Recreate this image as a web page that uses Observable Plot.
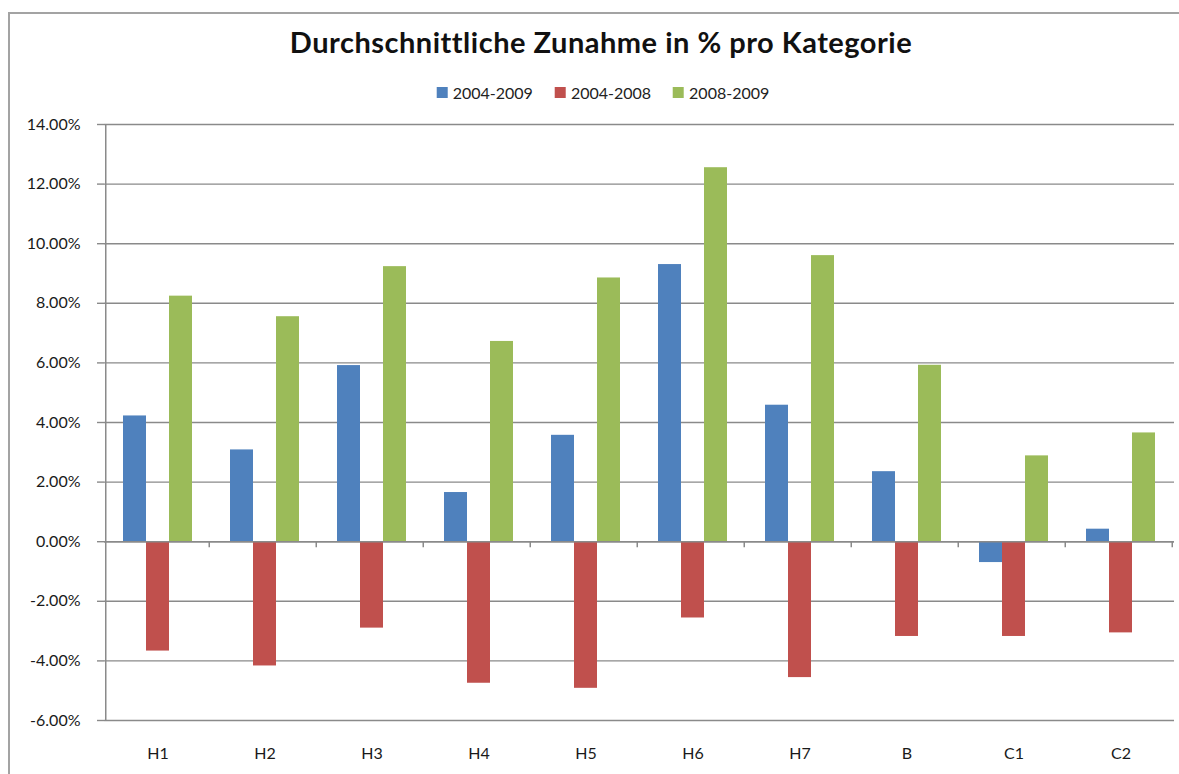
<!DOCTYPE html>
<html>
<head>
<meta charset="utf-8">
<script src="https://cdn.jsdelivr.net/npm/d3@7"></script>
<script src="https://cdn.jsdelivr.net/npm/@observablehq/plot@0.6"></script>
<style>
  html, body { margin: 0; padding: 0; background: #ffffff; }
  #wrap { position: relative; width: 1179px; height: 774px; overflow: hidden; font-family: Lato, "Open Sans", sans-serif; color: #1a1a1a; }
  #frame { position: absolute; left: 8px; top: 12px; width: 1200px; height: 800px; border: 2px solid #a3a3a3; box-sizing: border-box; }
  #title { position: absolute; left: 601px; top: 24px; transform: translateX(-50%); white-space: nowrap; font-weight: bold; font-size: 29px; letter-spacing: 0.5px; color: #111; }
  #legend { position: absolute; left: 603px; top: 83px; transform: translateX(-50%); display: flex; gap: 22px; white-space: nowrap; font-size: 16px; color: #222; }
  #legend .item { display: flex; align-items: center; gap: 5px; }
  #legend .sw { width: 11px; height: 11px; display: inline-block; }
  #chart { position: absolute; left: 0; top: 110px; }
</style>
</head>
<body>
<div id="wrap">
  <div id="frame"></div>
  <div id="title"></div>
  <div id="legend"></div>
  <div id="chart"></div>
</div>
<script>
// ---- data ----
const titleText = "Durchschnittliche Zunahme in % pro Kategorie";
const categories = ["H1", "H2", "H3", "H4", "H5", "H6", "H7", "B", "C1", "C2"];
const seriesNames = ["2004-2009", "2004-2008", "2008-2009"];
const seriesColors = ["#4F81BD", "#C0504D", "#9BBB59"];
const values20042009 = [4.22, 3.08, 5.91, 1.65, 3.57, 9.30, 4.58, 2.35, -0.70, 0.42];
const values20042008 = [-3.67, -4.17, -2.90, -4.75, -4.92, -2.56, -4.56, -3.18, -3.18, -3.06];
const values20082009 = [8.24, 7.55, 9.23, 6.72, 8.85, 12.55, 9.60, 5.92, 2.88, 3.65];
const yTicks = [-6, -4, -2, 0, 2, 4, 6, 8, 10, 12, 14];

// ---- table ----
const seriesValues = [values20042009, values20042008, values20082009];
const rows = [];
categories.forEach((c, i) => {
  seriesNames.forEach((s, j) => rows.push({category: c, series: s, value: seriesValues[j][i]}));
});

// ---- title & legend (HTML) ----
document.getElementById("title").textContent = titleText;
const legend = document.getElementById("legend");
seriesNames.forEach((s, j) => {
  const item = document.createElement("div");
  item.className = "item";
  const sw = document.createElement("span");
  sw.className = "sw";
  sw.style.background = seriesColors[j];
  const t = document.createElement("span");
  t.textContent = s;
  item.appendChild(sw);
  item.appendChild(t);
  legend.appendChild(item);
});

// ---- chart ----
const gridColor = "#8a8a8a";
const outerPad = 0.75;
let facetCounter = 0;

// category boundary ticks (and y axis line in the first facet)
function categoryTicks(index, scales) {
  const x = scales.x, y = scales.y;
  const x0 = x(seriesNames[0]);
  const step = x(seriesNames[1]) - x0;
  const left = x0 - outerPad * step;
  const right = x0 + (seriesNames.length + outerPad) * step;
  const y0 = y(0);
  const g = d3.create("svg:g").attr("stroke", gridColor).attr("stroke-width", 1.5).attr("fill", "none");
  g.append("line").attr("x1", right).attr("x2", right).attr("y1", y0).attr("y2", y0 + 6);
  if (facetCounter === 0) {
    g.append("line").attr("x1", left).attr("x2", left).attr("y1", y(14)).attr("y2", y(-6));
  }
  facetCounter++;
  return g.node();
}

const chart = Plot.plot({
  width: 1179,
  height: 664,
  marginTop: 14,
  marginBottom: 54,
  marginLeft: 103,
  marginRight: 4,
  style: {fontFamily: "Lato, 'Open Sans', sans-serif", fontSize: "16px", color: "#1a1a1a", background: "transparent", overflow: "visible"},
  fx: {domain: categories, padding: 0, label: null, axis: null},
  x: {domain: seriesNames, paddingInner: 0, paddingOuter: outerPad, axis: null},
  y: {domain: [-6, 14], label: null, axis: null},
  color: {domain: seriesNames, range: seriesColors},
  marks: [
    Plot.ruleY(yTicks, {stroke: gridColor, strokeWidth: 1.4}),
    Plot.barY(rows, {fx: "category", x: "series", y: "value", fill: "series"}),
    Plot.ruleY([0], {stroke: gridColor, strokeWidth: 1.5}),
    categoryTicks,
    Plot.axisY({ticks: yTicks, tickFormat: d => d.toFixed(2) + "%", tickSize: 7, tickPadding: 17, stroke: gridColor, fill: "#1a1a1a", strokeWidth: 1.4, label: null}),
    Plot.axisFx({anchor: "bottom", tickSize: 0, tickPadding: 27, label: null, fill: "#1a1a1a"})
  ]
});
document.getElementById("chart").appendChild(chart);
</script>
</body>
</html>
